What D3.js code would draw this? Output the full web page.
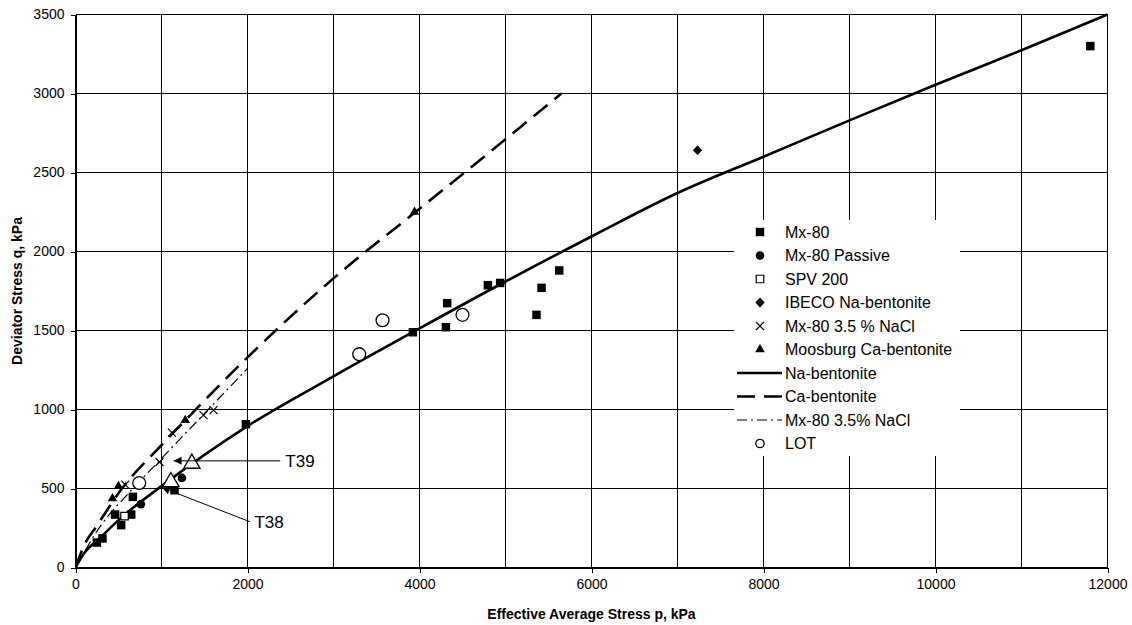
<!DOCTYPE html>
<html>
<head>
<meta charset="utf-8">
<script src="https://cdn.jsdelivr.net/npm/d3@7"></script>
<style>
  html, body { margin: 0; padding: 0; background: #fff; }
  svg { display: block; font-family: "Liberation Sans", Arial, sans-serif; }
</style>
</head>
<body>
<svg id="chart" width="1132" height="625"></svg>
<script>
// ---- data: effective average stress p (kPa) vs deviator stress q (kPa) ----
const mx80 = [[249,158],[314,184],[461,335],[531,268],[648,335],[667,447],[1151,489],
  [1981,907],[3923,1489],[4307,1521],[4322,1673],[4795,1787],[4938,1801],
  [5360,1599],[5419,1770],[5625,1880],[11800,3300]];
const mx80Passive = [[760,401],[1237,567]];
const spv200 = [[570,325]];
const ibeco = [[7233,2641]];
const mx80NaCl = [[578,525],[977,668],[1121,854],[1488,964],[1605,996]];
const moosburg = [[430,437],[500,514],[1276,932],[3942,2250]];
const lot = [[741,535],[3299,1350],[3570,1565],[4500,1599]];
const tests = [[1109,542],[1353,658]];            // T38, T39

// fitted failure lines
const naLine = [[0,0],[100,90],[300,195],[500,300],[1000,515],[2000,895],[3000,1210],
  [4000,1513],[5000,1810],[6000,2095],[7000,2370],[8000,2600],[9000,2830],
  [10000,3055],[11000,3274],[12000,3500]];
const caLine = [[0,0],[100,140],[250,265],[500,470],[1000,775],[1300,945],[2000,1330],
  [3000,1830],[4000,2270],[5000,2710],[5650,3000]];
const naclLine = [[0,0],[300,270],[600,460],[1000,690],[1500,975],[2000,1260]];

// test annotations: label, arrow tip, arrow tail
const notes = [
  {label: "T39", tip: [1140,675], tail: [2380,675], text: [2440,675]},
  {label: "T38", tip: [1005,506], tail: [2031,289], text: [2080,285]}
];

const xTicks = [0,2000,4000,6000,8000,10000,12000];
const yTicks = [0,500,1000,1500,2000,2500,3000,3500];
const xGrid = d3.range(0, 12001, 1000);

const svg = d3.select("#chart");
const x = d3.scaleLinear().domain([0, 12000]).range([75.5, 1107.5]);
const y = d3.scaleLinear().domain([0, 3500]).range([567.5, 14.5]);

svg.append("rect").attr("width", 1132).attr("height", 625).attr("fill", "#fff");

// grid
const grid = svg.append("g").attr("stroke", "#000").attr("stroke-width", 1).attr("shape-rendering", "crispEdges");
grid.selectAll(".v").data(xGrid).join("line")
  .attr("x1", d => x(d)).attr("x2", d => x(d)).attr("y1", y(0)).attr("y2", y(3500));
grid.selectAll(".h").data(yTicks).join("line")
  .attr("x1", x(0)).attr("x2", x(12000)).attr("y1", d => y(d)).attr("y2", d => y(d));

// axes
const xAxis = svg.append("g").attr("transform", `translate(0,${y(0)})`)
  .call(d3.axisBottom(x).tickValues(xTicks).tickSize(5).tickPadding(7).tickFormat(d3.format("d")));
const yAxis = svg.append("g").attr("transform", `translate(${x(0)},0)`)
  .call(d3.axisLeft(y).tickValues(yTicks).tickSize(5).tickPadding(6).tickFormat(d3.format("d")));
[xAxis, yAxis].forEach(a => {
  a.selectAll("text").attr("font-size", 14).attr("fill", "#000").attr("font-family", "Liberation Sans, Arial, sans-serif");
  a.selectAll("line, path").attr("stroke", "#000").attr("shape-rendering", "crispEdges");
});

svg.append("text").attr("x", (x(0) + x(12000)) / 2).attr("y", 619)
  .attr("text-anchor", "middle").attr("font-size", 14).attr("font-weight", "bold")
  .text("Effective Average Stress p, kPa");
svg.append("text").attr("transform", `translate(21.5,${(y(0) + y(3500)) / 2}) rotate(-90)`)
  .attr("text-anchor", "middle").attr("font-size", 14).attr("font-weight", "bold")
  .text("Deviator Stress q, kPa");

// curves
const caDash = "18,9", naclDash = "10,4,2,4";
svg.append("clipPath").attr("id", "plot").append("rect")
  .attr("x", x(0)).attr("y", y(3500) - 2).attr("width", x(12000) - x(0) + 2).attr("height", y(0) - y(3500) + 2);
const line = d3.line().x(d => x(d[0])).y(d => y(d[1])).curve(d3.curveMonotoneX);
const curves = svg.append("g").attr("clip-path", "url(#plot)").attr("fill", "none").attr("stroke", "#000");
curves.append("path").datum(naLine).attr("d", line).attr("stroke-width", 2.6);
curves.append("path").datum(caLine).attr("d", line).attr("stroke-width", 2.6).attr("stroke-dasharray", caDash);
curves.append("path").datum(naclLine).attr("d", line).attr("stroke-width", 1.2).attr("stroke-dasharray", naclDash);

// symbol shapes
const timesSym = { draw(ctx, size) { const r = Math.sqrt(size) / 2;
  ctx.moveTo(-r, -r); ctx.lineTo(r, r); ctx.moveTo(-r, r); ctx.lineTo(r, -r); } };
const rhombSym = { draw(ctx, size) { const r = Math.sqrt(size) / 1.45;
  ctx.moveTo(0, -r); ctx.lineTo(r * 0.95, 0); ctx.lineTo(0, r); ctx.lineTo(-r * 0.95, 0); ctx.closePath(); } };
const sym = (type, size) => d3.symbol().type(type).size(size)();
const series = [
  {name: "Mx-80", data: mx80, path: sym(d3.symbolSquare, 72), fill: "#000", stroke: "none"},
  {name: "Mx-80 Passive", data: mx80Passive, path: sym(d3.symbolCircle, 58), fill: "#000", stroke: "none"},
  {name: "SPV 200", data: spv200, path: sym(d3.symbolSquare, 56), fill: "#fff", stroke: "#000"},
  {name: "IBECO Na-bentonite", data: ibeco, path: sym(rhombSym, 50), fill: "#000", stroke: "none"},
  {name: "Mx-80 3.5 % NaCl", data: mx80NaCl, path: sym(timesSym, 64), fill: "none", stroke: "#000"},
  {name: "Moosburg Ca-bentonite", data: moosburg, path: sym(d3.symbolTriangle, 40), fill: "#000", stroke: "none"}
];
const lotPath = sym(d3.symbolCircle, 130);
const marks = svg.append("g");
series.forEach(s => {
  marks.append("g").selectAll("path").data(s.data).join("path")
    .attr("d", s.path).attr("transform", d => `translate(${x(d[0])},${y(d[1])})`)
    .attr("fill", s.fill).attr("stroke", s.stroke).attr("stroke-width", 1.2);
});
marks.append("g").selectAll("path").data(lot).join("path")
  .attr("d", lotPath).attr("transform", d => `translate(${x(d[0])},${y(d[1])})`)
  .attr("fill", "#fff").attr("stroke", "#000").attr("stroke-width", 1.3);
marks.append("g").selectAll("path").data(tests).join("path")
  .attr("d", sym(d3.symbolTriangle, 115)).attr("transform", d => `translate(${x(d[0])},${y(d[1])})`)
  .attr("fill", "#fff").attr("stroke", "#000").attr("stroke-width", 1.3);

// annotations
svg.append("defs").append("marker").attr("id", "arrow").attr("viewBox", "0 0 10 10")
  .attr("refX", 10).attr("refY", 5).attr("markerWidth", 9).attr("markerHeight", 8)
  .attr("markerUnits", "userSpaceOnUse").attr("orient", "auto")
  .append("path").attr("d", "M0,0L10,5L0,10Z").attr("fill", "#000");
const ann = svg.append("g");
notes.forEach(n => {
  ann.append("line").attr("x1", x(n.tail[0])).attr("y1", y(n.tail[1]))
    .attr("x2", x(n.tip[0])).attr("y2", y(n.tip[1]))
    .attr("stroke", "#000").attr("stroke-width", 1).attr("marker-end", "url(#arrow)");
  ann.append("text").attr("x", x(n.text[0])).attr("y", y(n.text[1])).attr("dy", "0.35em")
    .attr("font-size", 17).text(n.label);
});

// legend
const legendItems = [
  ...series.map(s => ({name: s.name, kind: "sym", s})),
  {name: "Na-bentonite", kind: "line", w: 2.6, dash: null},
  {name: "Ca-bentonite", kind: "line", w: 2.6, dash: caDash},
  {name: "Mx-80 3.5% NaCl", kind: "line", w: 1.2, dash: naclDash},
  {name: "LOT", kind: "lot"}
];
const lg = svg.append("g").attr("transform", "translate(734,220)");
lg.append("rect").attr("width", 226).attr("height", 236).attr("fill", "#fff");
const row = lg.selectAll("g").data(legendItems).join("g")
  .attr("transform", (d, i) => `translate(0,${12 + i * 23.5})`);
row.each(function(d) {
  const g = d3.select(this);
  if (d.kind === "sym") {
    g.append("path").attr("d", d.s.path).attr("transform", "translate(26,0)")
      .attr("fill", d.s.fill).attr("stroke", d.s.stroke).attr("stroke-width", 1.2);
  } else if (d.kind === "lot") {
    g.append("path").attr("d", d3.symbol().type(d3.symbolCircle).size(55)())
      .attr("transform", "translate(26,0)").attr("fill", "#fff").attr("stroke", "#000").attr("stroke-width", 1.3);
  } else {
    g.append("line").attr("x1", 3).attr("x2", 48).attr("stroke", "#000")
      .attr("stroke-width", d.w).attr("stroke-dasharray", d.dash);
  }
  g.append("text").attr("x", 51).attr("dy", "0.35em").attr("font-size", 16).text(d.name);
});
</script>
</body>
</html>
